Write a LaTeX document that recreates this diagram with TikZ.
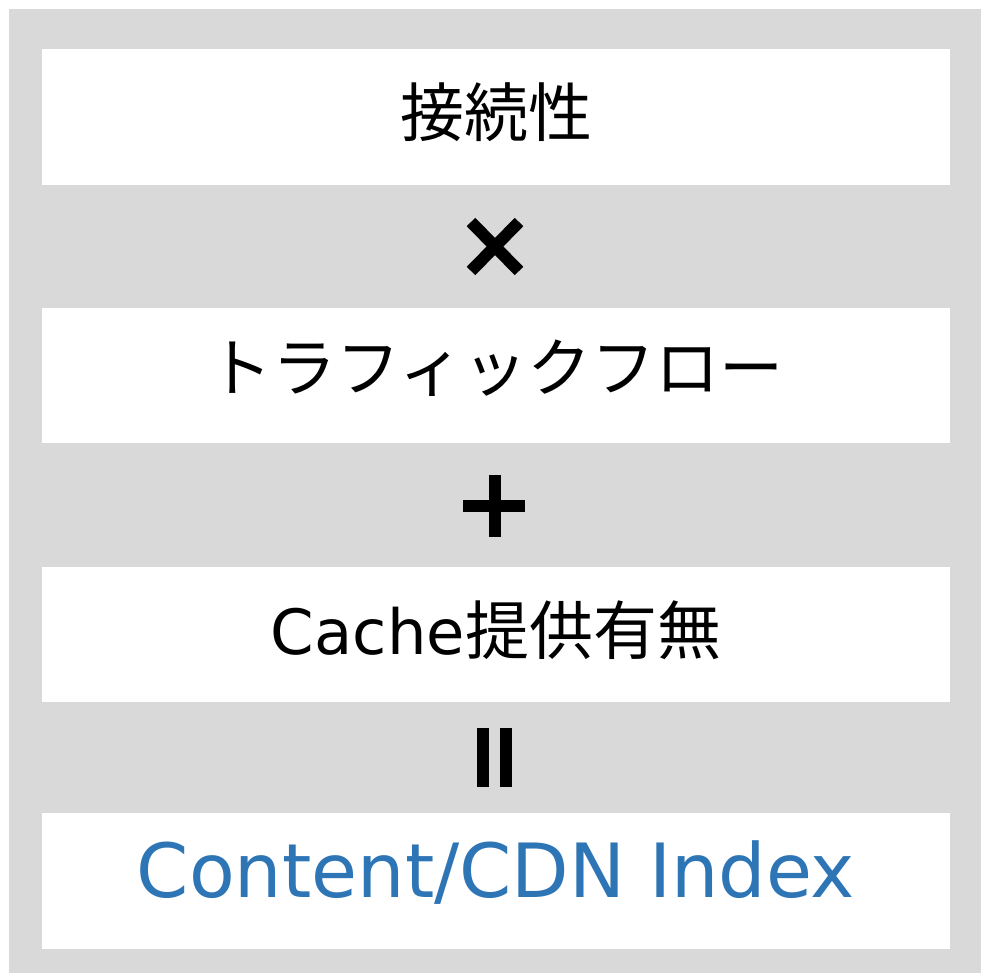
\documentclass[tikz,border=0pt]{standalone}
\usepackage{fontspec}
\setmainfont{DejaVu Sans}
\newfontfamily\jpfont{Noto Sans CJK JP}
\usetikzlibrary{calc}
\definecolor{panelgray}{HTML}{D9D9D9}
\definecolor{indexblue}{HTML}{2E75B6}
\tikzset{
	factorbox/.style={fill=white, draw=none},
	factortext/.style={inner sep=0pt, font=\jpfont\fontsize{32}{32}\selectfont},
	opbar/.style={line width=6pt, line cap=butt}
}

\begin{document}
\begin{tikzpicture}[x=0.5pt, y=-0.5pt]
		%%%%% START %%%%%
		
		\useasboundingbox (0, 0) rectangle (981, 973);
		\fill[panelgray] (9, 9) rectangle (981, 973);
		
		\fill[factorbox] (42, 49) rectangle (950, 185);
		\fill[factorbox] (42, 308) rectangle (950, 443);
		\fill[factorbox] (42, 567) rectangle (950, 702);
		\fill[factorbox] (42, 813) rectangle (950, 949);
		
		\node[factortext] (conn) at (496, 112) {接続性};
		\node[factortext] (flow) at (496, 368) {トラフィックフロー};
		\node[factortext] (cache) at (496, 630) {{\fontspec{DejaVu Sans}\fontsize{31.2}{31.2}\selectfont Cache}提供有無};
		\node[inner sep=0pt, text=indexblue, font=\fontsize{37.4}{37.4}\selectfont] (index) at (496, 873) {Content/CDN Index};
		
		% times
		\draw[opbar] (471, 222) -- (519, 271);
		\draw[opbar] (519, 222) -- (471, 271);
		
		% plus
		\draw[opbar] (494.5, 475) -- (494.5, 537);
		\draw[opbar] (463, 506) -- (525, 506);
		
		% equals
		\draw[opbar] (482.5, 728) -- (482.5, 787);
		\draw[opbar] (505.5, 728) -- (505.5, 787);
		
		%%%%% END %%%%%
	\end{tikzpicture}
\end{document}
